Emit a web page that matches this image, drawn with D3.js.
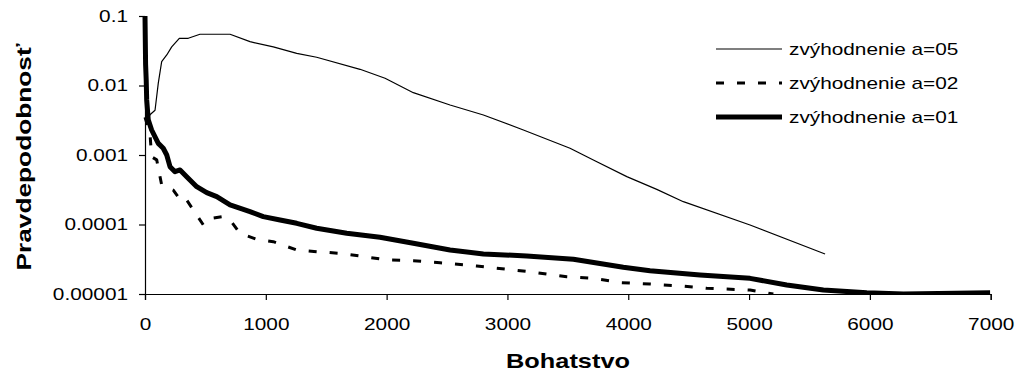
<!DOCTYPE html>
<html>
<head>
<meta charset="utf-8">
<script src="https://cdn.jsdelivr.net/npm/d3@7"></script>
<style>
  html, body { margin: 0; padding: 0; background: #fff; }
  svg { display: block; }
  text { font-family: "Liberation Sans", Arial, sans-serif; fill: #000; }
</style>
</head>
<body>
<svg id="chart" width="1023" height="379"></svg>
<script>
// Wealth (Bohatstvo) and probability for each advantage setting
const wealth05 = [6, 41, 83, 110, 138, 180, 221, 284, 358, 455, 704, 869, 1062, 1256, 1421, 1780, 1987, 2221, 2525, 2801, 3132, 3518, 3711, 3988, 4236, 4456, 5008, 5629];
const prob05 = [0.0027, 0.0038, 0.0044, 0.0108, 0.022, 0.0275, 0.036, 0.0478, 0.0478, 0.0546, 0.0546, 0.0427, 0.036, 0.029, 0.0255, 0.0171, 0.0127, 0.00788, 0.00524, 0.00376, 0.00229, 0.00125, 0.000847, 0.000488, 0.00032, 0.000213, 0.0000984, 0.0000377];

const wealth02 = [0, 41, 55, 97, 138, 234, 304, 345, 483, 552, 635, 704, 786, 925, 1062, 1256, 1421, 1614, 1780, 2001, 2221, 2442, 2746, 2994, 3187, 3491, 3711, 3932, 4180, 4456, 4650, 5008, 5201];
const prob02 = [0.0035, 0.00205, 0.00094, 0.00085, 0.00037, 0.000313, 0.000213, 0.000225, 0.0000984, 0.000123, 0.000129, 0.000116, 0.0000747, 0.0000612, 0.0000566, 0.000043, 0.0000406, 0.0000385, 0.0000352, 0.0000309, 0.0000301, 0.0000282, 0.0000253, 0.0000227, 0.0000209, 0.0000177, 0.0000168, 0.0000146, 0.0000139, 0.000013, 0.0000121, 0.0000114, 0.00001];

const wealth01 = [0, 5, 10, 14, 27, 55, 110, 151, 180, 207, 248, 290, 345, 428, 511, 594, 704, 869, 979, 1118, 1256, 1421, 1670, 1945, 2221, 2525, 2801, 3160, 3546, 3959, 4180, 4594, 5008, 5312, 5615, 5974, 6277, 6995];
const prob01 = [0.1, 0.02, 0.012, 0.0062, 0.0032, 0.00229, 0.00147, 0.00125, 0.0010, 0.00068, 0.000575, 0.00061, 0.000488, 0.00035, 0.000287, 0.000252, 0.000191, 0.000153, 0.00013, 0.000116, 0.000104, 0.0000883, 0.0000747, 0.0000655, 0.0000537, 0.000043, 0.0000377, 0.0000352, 0.0000316, 0.0000242, 0.0000216, 0.0000188, 0.0000168, 0.0000135, 0.0000114, 0.0000104, 0.00001, 0.0000104];

const seriesNames = ["zvýhodnenie a=05", "zvýhodnenie a=02", "zvýhodnenie a=01"];

const xTicks = [0, 1000, 2000, 3000, 4000, 5000, 6000, 7000];
const yTicks = [0.00001, 0.0001, 0.001, 0.01, 0.1];
const yTickLabels = ["0.00001", "0.0001", "0.001", "0.01", "0.1"];

const xTitle = "Bohatstvo";
const yTitle = "Pravdepodobnosť";

// ---- layout ----
const svg = d3.select("#chart");
const plotLeft = 145, plotRight = 990.7, plotTop = 16, plotBottom = 294;
const stretch = 1.3;          // text is set wide in this chart
const fontTick = 16;

const x = d3.scaleLinear().domain([0, 7000]).range([plotLeft, plotRight]);
const y = d3.scaleLog().domain([0.00001, 0.1]).range([plotBottom, plotTop]);

const series = [
  { name: seriesNames[0], xs: wealth05, ys: prob05, width: 1.2, dash: null },
  { name: seriesNames[1], xs: wealth02, ys: prob02, width: 3, dash: "8,13" },
  { name: seriesNames[2], xs: wealth01, ys: prob01, width: 5, dash: null }
];

svg.append("defs").append("clipPath").attr("id", "plot")
  .append("rect").attr("x", plotLeft - 4).attr("y", plotTop - 4)
  .attr("width", plotRight - plotLeft + 8).attr("height", plotBottom - plotTop + 4);

const line = d3.line().x(d => x(d[0])).y(d => y(d[1]));

const plot = svg.append("g").attr("clip-path", "url(#plot)");
series.forEach(s => {
  plot.append("path")
    .datum(s.xs.map((w, i) => [w, s.ys[i]]))
    .attr("d", line)
    .attr("fill", "none")
    .attr("stroke", "#000")
    .attr("stroke-width", s.width)
    .attr("stroke-linejoin", "round")
    .attr("stroke-dasharray", s.dash);
});

// ---- axes ----
const xAxis = svg.append("g").attr("transform", `translate(0,${plotBottom})`)
  .call(d3.axisBottom(x).tickValues(xTicks).tickSize(6).tickPadding(19).tickFormat(d3.format("d")));
const yAxis = svg.append("g").attr("transform", `translate(${plotLeft},0)`)
  .call(d3.axisLeft(y).tickValues(yTicks).tickSize(6)
    .tickFormat((d, i) => yTickLabels[i]));

[xAxis, yAxis].forEach(a => {
  a.select(".domain").attr("stroke", "#000").attr("stroke-width", 1.2);
  a.selectAll(".tick line").attr("stroke", "#000").attr("stroke-width", 1.2);
  a.selectAll(".tick text").attr("font-size", fontTick)
    .attr("font-family", "Liberation Sans, Arial, sans-serif").attr("fill", "#000");
});
// widen tick labels around their anchor point
xAxis.selectAll(".tick text").attr("transform", `scale(${stretch},1)`);
yAxis.selectAll(".tick text")
  .attr("x", -17 / stretch)
  .attr("transform", `scale(${stretch},1)`);

// ---- titles ----
svg.append("text")
  .attr("transform", `translate(568,368) scale(${stretch},1)`)
  .attr("text-anchor", "middle").attr("font-weight", "bold").attr("font-size", 19.5)
  .text(xTitle);
svg.append("text")
  .attr("transform", "translate(31,157) rotate(-90) scale(1.25,1)")
  .attr("text-anchor", "middle").attr("font-weight", "bold").attr("font-size", 21)
  .text(yTitle);

// ---- legend ----
const legendY = [49, 83, 117];
const legend = svg.append("g");
series.forEach((s, i) => {
  legend.append("line")
    .attr("x1", 716).attr("x2", 782)
    .attr("y1", legendY[i]).attr("y2", legendY[i])
    .attr("stroke", "#000").attr("stroke-width", s.width)
    .attr("stroke-dasharray", s.dash);
  legend.append("text")
    .attr("transform", `translate(789,${legendY[i]}) scale(${stretch},1)`)
    .attr("dy", "0.35em").attr("font-size", fontTick)
    .text(s.name);
});
</script>
</body>
</html>
